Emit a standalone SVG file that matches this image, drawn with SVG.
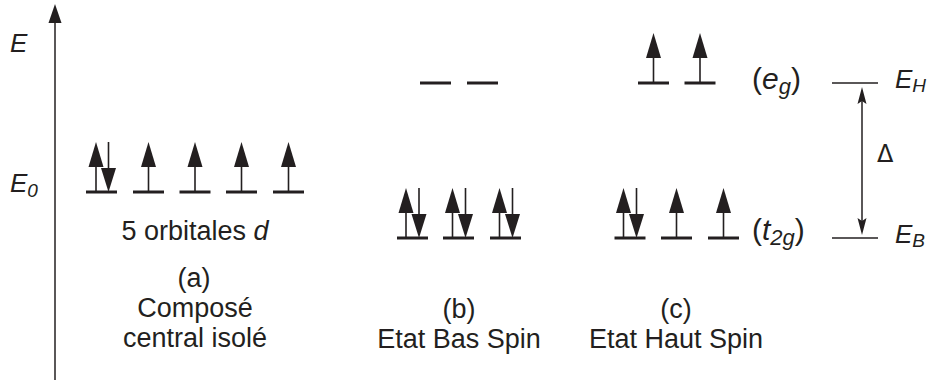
<svg xmlns="http://www.w3.org/2000/svg" xmlns:xlink="http://www.w3.org/1999/xlink" width="932" height="380" viewBox="0 0 932 380">
  <style>
    .t { font-family: "Liberation Sans", Arial, sans-serif; font-size: 27px; fill: #231f20; }
    .lbl { font-family: "Liberation Sans", Arial, sans-serif; font-style: italic; font-size: 26px; fill: #231f20; }
    .sub { font-size: 19px; }
    .sym { font-family: "Liberation Sans", Arial, sans-serif; font-size: 30px; fill: #231f20; }
    .ssub { font-size: 22px; font-style: italic; }
    .i { font-style: italic; }
    .lvl { stroke: #231f20; stroke-width: 3; }
    .ref { stroke: #231f20; stroke-width: 1.5; }
    .stem { stroke: #231f20; stroke-width: 1.6; }
    .head { fill: #231f20; }
  </style>
  <defs>
    <g id="orb"><line class="lvl" x1="-15.5" y1="0" x2="15.5" y2="0"/></g>
    <g id="up"><line class="stem" x1="0" y1="0" x2="0" y2="-28"/><polygon class="head" points="0,-50 -7.5,-25 7.5,-25"/></g>
    <g id="down"><line class="stem" x1="0" y1="-50" x2="0" y2="-20"/><polygon class="head" points="-7.5,-24 7.5,-24 0,0"/></g>
  </defs>

  <g id="axis">
    <line class="ref" x1="55" y1="380" x2="55" y2="20"/>
    <polygon class="head" points="55,4 48.5,23 61.5,23"/>
    <text class="lbl" x="10" y="52">E</text>
    <text class="lbl" x="10" y="192">E<tspan class="sub" dy="5">0</tspan></text>
  </g>

  <g id="isolated">
    <use xlink:href="#orb" x="101.5" y="192"/>
    <use xlink:href="#orb" x="148.5" y="192"/>
    <use xlink:href="#orb" x="195" y="192"/>
    <use xlink:href="#orb" x="241.5" y="192"/>
    <use xlink:href="#orb" x="288.5" y="192"/>
    <use xlink:href="#up" x="96" y="192"/>
    <use xlink:href="#down" x="108.5" y="192"/>
    <use xlink:href="#up" x="148.5" y="192"/>
    <use xlink:href="#up" x="195" y="192"/>
    <use xlink:href="#up" x="241.5" y="192"/>
    <use xlink:href="#up" x="288.5" y="192"/>
    <text class="t" x="195" y="240" text-anchor="middle">5 orbitales <tspan class="i">d</tspan></text>
    <text class="t" x="194" y="287" text-anchor="middle">(a)</text>
    <text class="t" x="195" y="317" text-anchor="middle">Composé</text>
    <text class="t" x="195" y="347" text-anchor="middle">central isolé</text>
  </g>

  <g id="low-spin">
    <use xlink:href="#orb" x="435.5" y="83"/>
    <use xlink:href="#orb" x="482.5" y="83"/>
    <use xlink:href="#orb" x="412.5" y="238"/>
    <use xlink:href="#orb" x="458.5" y="238"/>
    <use xlink:href="#orb" x="505.5" y="238"/>
    <use xlink:href="#up" x="406" y="238"/>
    <use xlink:href="#down" x="419" y="238"/>
    <use xlink:href="#up" x="452.5" y="238"/>
    <use xlink:href="#down" x="465.5" y="238"/>
    <use xlink:href="#up" x="499.5" y="238"/>
    <use xlink:href="#down" x="512.5" y="238"/>
    <text class="t" x="459" y="318" text-anchor="middle">(b)</text>
    <text class="t" x="459" y="348" text-anchor="middle">Etat Bas Spin</text>
  </g>

  <g id="high-spin">
    <use xlink:href="#orb" x="653.5" y="83"/>
    <use xlink:href="#orb" x="700" y="83"/>
    <use xlink:href="#up" x="653.5" y="83"/>
    <use xlink:href="#up" x="700" y="83"/>
    <use xlink:href="#orb" x="630" y="238"/>
    <use xlink:href="#orb" x="676.5" y="238"/>
    <use xlink:href="#orb" x="723.5" y="238"/>
    <use xlink:href="#up" x="623.5" y="238"/>
    <use xlink:href="#down" x="636.5" y="238"/>
    <use xlink:href="#up" x="676.5" y="238"/>
    <use xlink:href="#up" x="723.5" y="238"/>
    <text class="t" x="676" y="318" text-anchor="middle">(c)</text>
    <text class="t" x="676" y="348" text-anchor="middle">Etat Haut Spin</text>
  </g>

  <g id="eg-label">
    <text class="sym" x="752" y="89">(<tspan class="i">e</tspan><tspan class="ssub" dy="5">g</tspan><tspan dy="-5">)</tspan></text>
  </g>
  <g id="t2g-label">
    <text class="sym" x="752" y="240">(<tspan class="i">t</tspan><tspan class="ssub" dy="5">2g</tspan><tspan dy="-5">)</tspan></text>
  </g>

  <g id="level-EH">
    <line class="ref" x1="832" y1="83" x2="878" y2="83"/>
    <text class="lbl" x="895" y="88">E<tspan class="sub" dy="4">H</tspan></text>
  </g>
  <g id="level-EB">
    <line class="ref" x1="832" y1="238" x2="878" y2="238"/>
    <text class="lbl" x="895" y="243">E<tspan class="sub" dy="4">B</tspan></text>
  </g>

  <g id="connectors">
    <line class="ref" x1="862" y1="98" x2="862" y2="224"/>
    <polygon class="head" points="862,87 857.5,104 862,101 866.5,104"/>
    <polygon class="head" points="862,235 857.5,218 862,221 866.5,218"/>
    <text x="877" y="162" style="font-family:'DejaVu Sans','Liberation Sans',sans-serif;font-size:24px;fill:#231f20">Δ</text>
  </g>
</svg>
